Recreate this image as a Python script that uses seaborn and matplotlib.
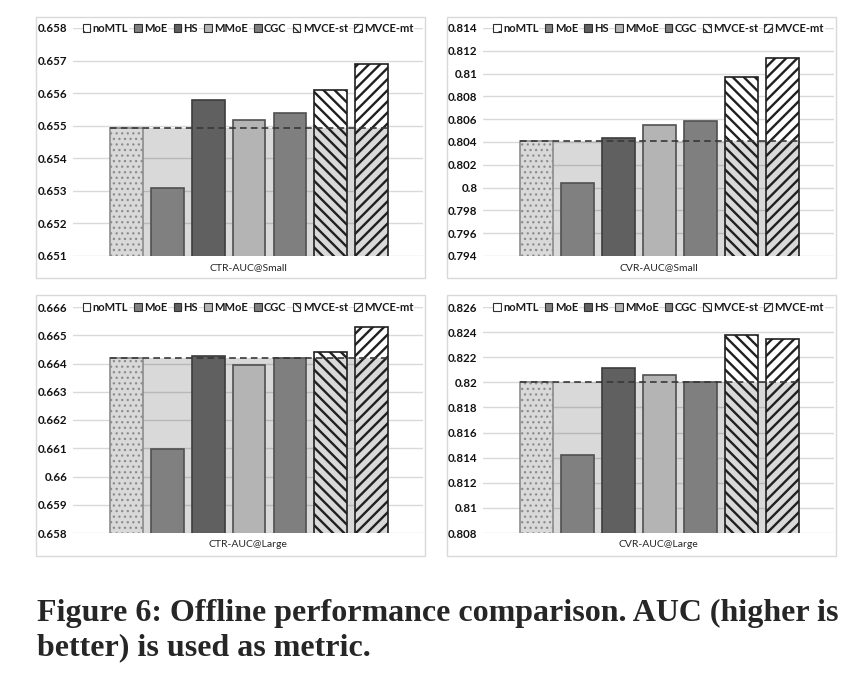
import numpy as np
import seaborn as sns
import matplotlib.pyplot as plt
import matplotlib.patches as mpatches
from matplotlib.ticker import FuncFormatter

methods = ["noMTL", "MoE", "HS", "MMoE", "CGC", "MVCE-st", "MVCE-mt"]

ctr_small = [0.65494, 0.65308, 0.6558, 0.65518, 0.65538, 0.65609, 0.65689]
cvr_small = [0.80407, 0.80038, 0.80434, 0.80548, 0.80586, 0.80969, 0.81136]
ctr_large = [0.6642, 0.66099, 0.66425, 0.66396, 0.66419, 0.66439, 0.66529]
cvr_large = [0.82004, 0.81424, 0.82117, 0.82057, 0.82006, 0.82379, 0.82342]

panel_titles = ["CTR-AUC@Small", "CVR-AUC@Small", "CTR-AUC@Large", "CVR-AUC@Large"]
panel_ticks = [
    [0.651, 0.652, 0.653, 0.654, 0.655, 0.656, 0.657, 0.658],
    [0.794, 0.796, 0.798, 0.8, 0.802, 0.804, 0.806, 0.808, 0.81, 0.812, 0.814],
    [0.658, 0.659, 0.66, 0.661, 0.662, 0.663, 0.664, 0.665, 0.666],
    [0.808, 0.81, 0.812, 0.814, 0.816, 0.818, 0.82, 0.822, 0.824, 0.826],
]
caption = ["Figure 6: Offline performance comparison. AUC (higher is",
           "better) is used as metric."]

face = ["none", "#808080", "#606060", "#b4b4b4", "#7f7f7f", "none", "none"]
edge = ["#8c8c8c", "#505050", "#3c3c3c", "#505050", "#505050", "#202020", "#202020"]
hatches = ["...", None, None, None, None, "\\\\\\", "///"]
leg_hatches = [".", None, None, None, None, "\\\\\\\\", "////"]

sns.set_style("white")
plt.rcParams["font.family"] = ["Lato", "DejaVu Sans"]
plt.rcParams["hatch.linewidth"] = 1.0

W, H = 859, 674
fig = plt.figure(figsize=(W / 100, H / 100), dpi=100)

# axes boxes in pixels: left, right, top, bottom
boxes = [(73, 423, 28, 256), (483, 834, 28, 256),
         (73, 423, 307, 533), (483, 834, 307, 533)]
frames = [(36, 425, 17, 278), (447, 836, 17, 278),
          (36, 425, 295, 556), (447, 836, 295, 556)]

for fl, fr, ft, fb in frames:
    fig.patches.append(mpatches.Rectangle((fl / W, 1 - fb / H), (fr - fl) / W, (fb - ft) / H,
                                          transform=fig.transFigure, fill=False,
                                          edgecolor="#d9d9d9", lw=1))

datasets = [ctr_small, cvr_small, ctr_large, cvr_large]
for k, vals in enumerate(datasets):
    l, r, t, b = boxes[k]
    ax = fig.add_axes([l / W, 1 - b / H, (r - l) / W, (b - t) / H])
    ticks = panel_ticks[k]
    base = vals[0]

    # white backing under bars (hides gridlines)
    sns.barplot(x=methods, y=vals, color="white", saturation=1, ax=ax, zorder=1.2,
                linewidth=0, width=0.8)
    sns.barplot(x=methods, y=vals, hue=methods, palette=["#ffffff"] * 7, saturation=1,
                ax=ax, zorder=2, legend=False, width=0.8)
    bars = [c.patches[0] for c in ax.containers[1:]]
    for i, p in enumerate(bars):
        p.set_facecolor(face[i])
        p.set_edgecolor(edge[i])
        p.set_linewidth(1.2)
        if hatches[i]:
            p.set_hatch(hatches[i])
            if hasattr(p, "set_hatch_linewidth"):
                p.set_hatch_linewidth(0.9 if i == 0 else 1.7)

    x0 = bars[0].get_x()
    x1 = bars[-1].get_x() + bars[-1].get_width()
    ax.fill_between([x0, x1], ticks[0], base, color="black", alpha=0.15, lw=0, zorder=1.5)
    ax.hlines(base, x0, x1, colors="#383838", linestyles=(0, (4, 2.5)), lw=1.2, zorder=3)

    ax.set_xlim(-1.31, 7.26)
    ax.set_ylim(ticks[0], ticks[-1])
    ax.set_yticks(ticks)
    ax.yaxis.set_major_formatter(FuncFormatter(lambda v, pos: "{:g}".format(round(v, 4))))
    ax.grid(axis="y", color="#d9d9d9", lw=1, zorder=0)
    ax.set_axisbelow(True)
    ax.tick_params(axis="y", length=0, pad=4, labelsize=8.3, labelcolor="#111111")
    for lab in ax.get_yticklabels():
        lab.set_fontweight("bold")
    ax.set_xticks([])
    ax.set_xlabel(panel_titles[k], fontsize=7.5, color="#262626", labelpad=5)
    sns.despine(ax=ax, left=True, bottom=True)

    handles = []
    for i, m in enumerate(methods):
        fc = "white" if face[i] == "none" else face[i]
        hp = mpatches.Patch(facecolor=fc, edgecolor="#303030", hatch=leg_hatches[i], lw=0.8, label=m)
        if hasattr(hp, "set_hatch_linewidth"):
            hp.set_hatch_linewidth(1.2)
        handles.append(hp)
    leg = ax.legend(handles=handles, loc="center", bbox_to_anchor=(0.5, 1.0), ncol=7,
                    frameon=False, handlelength=0.7, handleheight=0.7, handletextpad=0.2,
                    columnspacing=0.55, borderaxespad=0,
                    prop={"weight": "bold", "size": 8})
    for txt in leg.get_texts():
        txt.set_color("#1a1a1a")
        txt.set_bbox(dict(facecolor="white", edgecolor="none", pad=0.6))

fig.text(37 / W, 1 - 621 / H, caption[0], fontsize=23, fontweight="bold",
         family=["Liberation Serif", "DejaVu Serif"], va="baseline")
fig.text(37 / W, 1 - 655 / H, caption[1], fontsize=23, fontweight="bold",
         family=["Liberation Serif", "DejaVu Serif"], va="baseline")

fig.savefig("out.png", dpi=100)
